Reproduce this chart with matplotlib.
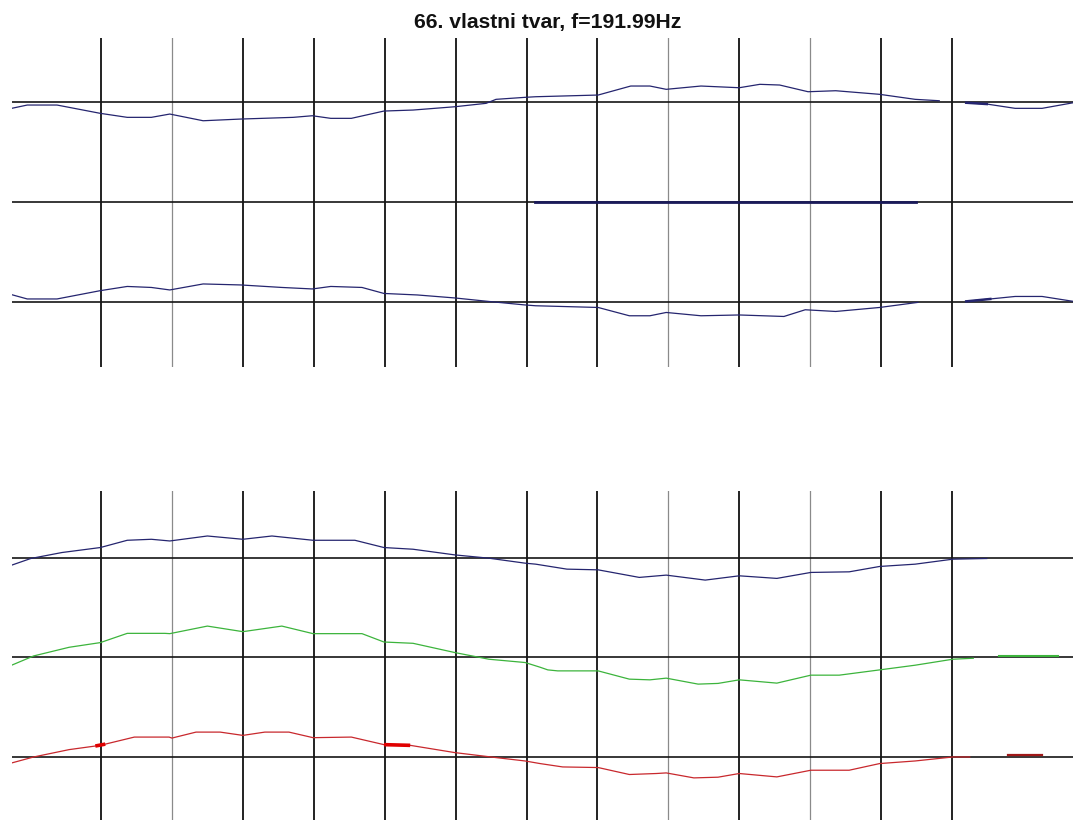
import numpy as np
import matplotlib
matplotlib.use("Agg")
import matplotlib.pyplot as plt

# ---- mode shape data (x in station units, displacement in plot units) ----
title_text = "66. vlastni tvar, f=191.99Hz"

stations = np.arange(1, 14)
light_stations = [2, 9, 11]
row_offsets = [200, 100, 0]

# upper panel, first row
top1_x = [-0.26, -0.04, 0.38, 0.99, 1.37, 1.71, 1.97, 2.44, 2.97, 3.71, 3.98, 4.24,
          4.53, 4.99, 5.40, 5.99, 6.43, 6.57, 6.98, 7.13, 8.01, 8.47, 8.74, 8.97,
          9.46, 10.0, 10.29, 10.57, 10.97, 11.36, 11.98, 12.48, 12.82]
top1_y = [-6, -2.7, -2.7, -11, -15, -15, -11.7, -18.4, -16.7, -15, -13.4, -16,
          -16, -8.7, -7.7, -4.4, -1, 3, 5, 5.6, 7.3, 16.3, 16.3, 13,
          16.3, 14.6, 18, 17.3, 10.6, 11.6, 8, 3, 1.6]
top1_end_x = [13.20, 13.49, 13.89, 14.27, 14.71]
top1_end_y = [-0.4, -1.7, -6, -6, -0.4]

# upper panel, second row
top2_x = [7.12, 12.49]
top2_y = [0, 0]

# upper panel, third row
top3_x = [-0.26, -0.04, 0.38, 0.99, 1.37, 1.71, 1.97, 2.44, 2.97, 3.55, 3.98, 4.24,
          4.68, 4.99, 5.46, 5.99, 6.47, 6.98, 7.13, 8.01, 8.45, 8.74, 8.97, 9.46,
          10.0, 10.63, 10.93, 11.36, 11.98, 12.52]
top3_y = [7.8, 3.5, 3.5, 11.8, 16, 15, 12.5, 18.5, 17.5, 15, 13.5, 16,
          15, 9, 7.5, 4.5, 1, -2.5, -3.3, -5, -13.3, -13.3, -10, -13.3,
          -12.5, -14, -7.3, -9, -5, 0.1]
top3_end_x = [13.20, 13.54, 13.89, 14.27, 14.71]
top3_end_y = [1.1, 3.5, 6, 6, 1.1]

# lower panel, blue component
blue_x = [-0.26, 0.01, 0.45, 0.99, 1.37, 1.71, 1.97, 2.50, 3.00, 3.41, 3.99, 4.58,
          4.99, 5.40, 5.99, 6.47, 6.98, 7.13, 7.57, 8.01, 8.59, 8.97, 9.52, 10.0,
          10.53, 11.01, 11.55, 11.98, 12.48, 13.01, 13.49]
blue_y = [-7.5, -0.8, 5.2, 10.2, 17.5, 18.5, 16.8, 21.8, 18.5, 21.8, 17.5, 17.5,
          10.2, 8.5, 2.8, -0.5, -5.5, -6.5, -11.5, -12.2, -19.8, -17.5, -22.5, -18.2,
          -20.8, -14.8, -14.2, -8.8, -6.5, -1.5, -0.8]

# lower panel, green component
green_x = [-0.26, 0.05, 0.55, 0.99, 1.37, 1.90, 1.97, 2.50, 3.00, 3.55, 3.99, 4.68,
           4.99, 5.40, 5.99, 6.47, 6.98, 7.19, 7.30, 7.44, 8.01, 8.45, 8.74, 8.97,
           9.42, 9.70, 10.0, 10.53, 11.01, 11.41, 11.98, 12.48, 13.01, 13.30]
green_y = [-8, 1.3, 10, 14.7, 24, 24, 23.7, 31.3, 25.7, 31.3, 23.7, 23.7,
           15.3, 14, 4.7, -2, -5.3, -10, -12.7, -13.7, -13.7, -22, -22.7, -21,
           -27, -26.3, -22.7, -26, -18, -18, -12.7, -8, -2, -1]
green_end_x = [13.66, 14.49]
green_end_y = [1.3, 1.3]

# lower panel, red component
red_x = [-0.26, 0.05, 0.55, 0.99, 1.47, 1.96, 2.00, 2.34, 2.68, 3.00, 3.31, 3.65,
         3.99, 4.53, 4.99, 5.36, 5.99, 6.57, 6.98, 7.19, 7.51, 8.01, 8.45, 8.83,
         8.97, 9.36, 9.70, 10.0, 10.53, 11.01, 11.55, 11.98, 12.48, 13.01, 13.25]
red_y = [-6.2, -0.2, 7.2, 11.5, 19.8, 19.8, 18.8, 24.8, 24.8, 21.5, 24.8, 24.8,
         19.2, 19.8, 12.2, 11.5, 4.2, -0.8, -4.2, -6.8, -10.2, -10.8, -17.8, -16.8,
         -16.2, -21.2, -20.5, -16.8, -20.2, -13.5, -13.5, -6.8, -4.2, -0.2, -0.2]
red_end_x = [13.79, 14.27]
red_end_y = [1.5, 1.5]
red_marks = [(0.92, 1.06), (4.99, 5.36)]

NAVY = "#25256f"
GREEN = "#3cb43c"
RED = "#c8282d"

W, H, DPI = 1076, 823, 100
fig = plt.figure(figsize=(W / DPI, H / DPI), dpi=DPI)
fig.patch.set_facecolor("white")

x_left_px, x_right_px = 12, 1073
xlim = (-0.255, 14.706)


def make_panel(top_px, bottom_px, ylim):
    ax = fig.add_axes([x_left_px / W, 1 - bottom_px / H,
                       (x_right_px - x_left_px) / W, (bottom_px - top_px) / H])
    ax.set_xlim(*xlim)
    ax.set_ylim(*ylim)
    ax.axis("off")
    for s in stations:
        if s in light_stations:
            ax.axvline(s, color="#8a8a8a", lw=0.9, zorder=1)
        else:
            ax.axvline(s, color="#111111", lw=1.3, zorder=1)
    for off in row_offsets:
        ax.axhline(off, color="#151515", lw=1.2, zorder=1)
    return ax


ax_top = make_panel(38, 367, (-64.5, 264.3))
ax_bot = make_panel(491, 820, (-63.5, 267))

# upper panel
o = row_offsets
ax_top.plot(top1_x, np.add(top1_y, o[0]), color=NAVY, lw=0.9, zorder=3)
ax_top.plot(top1_end_x, np.add(top1_end_y, o[0]), color=NAVY, lw=0.9, zorder=3)
ax_top.plot(top1_end_x[:2], np.add(top1_end_y[:2], o[0]), color=NAVY, lw=1.8, zorder=3)
ax_top.plot(top2_x, np.add(top2_y, o[1]), color="#1a1a5a", lw=2.0, zorder=3)
ax_top.plot(top3_x, np.add(top3_y, o[2]), color=NAVY, lw=0.9, zorder=3)
ax_top.plot(top3_end_x, np.add(top3_end_y, o[2]), color=NAVY, lw=0.9, zorder=3)
ax_top.plot(top3_end_x[:2], np.add(top3_end_y[:2], o[2]), color=NAVY, lw=1.8, zorder=3)

# lower panel
ax_bot.plot(blue_x, np.add(blue_y, o[0]), color=NAVY, lw=0.9, zorder=3)
ax_bot.plot(green_x, np.add(green_y, o[1]), color=GREEN, lw=0.9, zorder=3)
ax_bot.plot(green_end_x, np.add(green_end_y, o[1]), color=GREEN, lw=1.5, zorder=3)
ax_bot.plot(red_x, np.add(red_y, o[2]), color=RED, lw=0.9, zorder=3)
ax_bot.plot(red_end_x, np.add(red_end_y, o[2]), color="#a01818", lw=1.6, zorder=3)
for a, b in red_marks:
    xs = np.array([a, b])
    ax_bot.plot(xs, np.interp(xs, red_x, red_y) + o[2], color="#e00000",
                lw=2.6, solid_capstyle="butt", zorder=4)

fig.text(547.5 / W, 1 - 28 / H, title_text, ha="center", va="baseline",
         fontsize=15.2, fontweight="bold", family=["Liberation Sans", "DejaVu Sans"],
         color="#111111")

fig.savefig("out.png", dpi=DPI, facecolor="white")
